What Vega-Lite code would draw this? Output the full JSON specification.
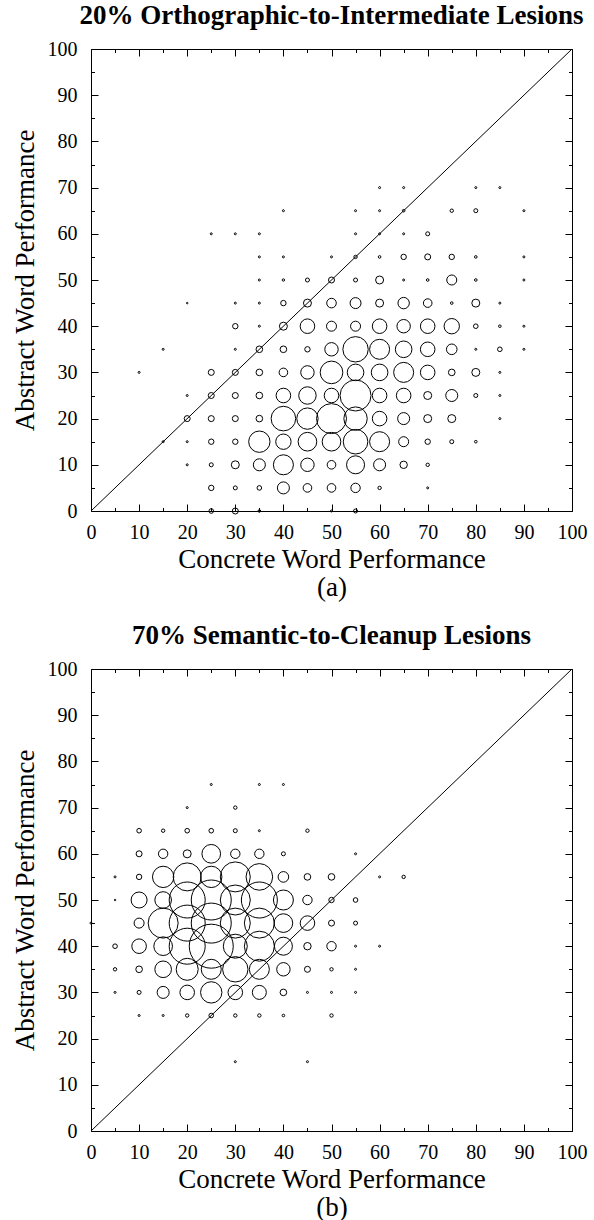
{
  "$schema": "https://vega.github.io/schema/vega-lite/v6.json",
  "background": "white",
  "padding": {"left": 10, "top": 1, "right": 0, "bottom": 0},
  "spacing": 158,
  "bounds": "flush",
  "config": {
    "font": "Liberation Serif",
    "view": {"stroke": "black", "strokeWidth": 1},
    "axis": {"grid": false, "domain": false, "tickColor": "black", "tickWidth": 1, "labelColor": "black", "labelFont": "Liberation Serif", "labelFontSize": 20, "titleFont": "Liberation Serif", "titleFontSize": 27, "titleFontWeight": "normal", "titleColor": "black", "labelFlush": false, "labelOverlap": false},
    "title": {"font": "Liberation Serif", "fontSize": 27, "fontWeight": "bold", "color": "black", "anchor": "middle"}
  },
  "datasets": {
    "a": [
      {"x":60,"y":70,"n":1},{"x":65,"y":70,"n":1},{"x":80,"y":70,"n":1},{"x":85,"y":70,"n":1},
      {"x":40,"y":65,"n":1},{"x":55,"y":65,"n":1},{"x":60,"y":65,"n":1},{"x":65,"y":65,"n":1.7},{"x":75,"y":65,"n":2.9},{"x":80,"y":65,"n":4},{"x":90,"y":65,"n":1},
      {"x":25,"y":60,"n":1},{"x":30,"y":60,"n":1},{"x":35,"y":60,"n":1},{"x":55,"y":60,"n":1},{"x":60,"y":60,"n":1},{"x":65,"y":60,"n":1},{"x":70,"y":60,"n":4},
      {"x":35,"y":55,"n":1},{"x":40,"y":55,"n":1},{"x":50,"y":55,"n":1},{"x":55,"y":55,"n":2.9},{"x":60,"y":55,"n":1.7},{"x":65,"y":55,"n":7.3},{"x":70,"y":55,"n":9},{"x":75,"y":55,"n":7.3},{"x":80,"y":55,"n":1.7},{"x":90,"y":55,"n":1},
      {"x":35,"y":50,"n":1},{"x":40,"y":50,"n":1.4},{"x":45,"y":50,"n":4},{"x":50,"y":50,"n":9},{"x":55,"y":50,"n":4},{"x":60,"y":50,"n":16},{"x":65,"y":50,"n":1},{"x":70,"y":50,"n":1.7},{"x":75,"y":50,"n":25},{"x":80,"y":50,"n":1.7},{"x":90,"y":50,"n":1},
      {"x":20,"y":45,"n":0.6},{"x":30,"y":45,"n":1},{"x":35,"y":45,"n":1},{"x":40,"y":45,"n":7.3},{"x":45,"y":45,"n":16},{"x":50,"y":45,"n":23},{"x":55,"y":45,"n":30},{"x":60,"y":45,"n":16},{"x":65,"y":45,"n":32.5},{"x":70,"y":45,"n":18.5},{"x":75,"y":45,"n":1.7},{"x":80,"y":45,"n":16},{"x":85,"y":45,"n":1},
      {"x":30,"y":40,"n":7.3},{"x":35,"y":40,"n":1},{"x":40,"y":40,"n":16},{"x":45,"y":40,"n":53},{"x":50,"y":40,"n":25},{"x":55,"y":40,"n":25},{"x":60,"y":40,"n":53},{"x":65,"y":40,"n":45},{"x":70,"y":40,"n":53},{"x":75,"y":40,"n":59},{"x":80,"y":40,"n":5.3},{"x":85,"y":40,"n":1.7},{"x":90,"y":40,"n":1},
      {"x":15,"y":35,"n":1},{"x":30,"y":35,"n":1},{"x":35,"y":35,"n":11},{"x":40,"y":35,"n":11},{"x":45,"y":35,"n":7.3},{"x":50,"y":35,"n":45},{"x":55,"y":35,"n":161},{"x":60,"y":35,"n":100},{"x":65,"y":35,"n":69},{"x":70,"y":35,"n":53},{"x":75,"y":35,"n":28},{"x":80,"y":35,"n":1},{"x":85,"y":35,"n":5.3},{"x":90,"y":35,"n":1},
      {"x":10,"y":30,"n":1},{"x":25,"y":30,"n":9},{"x":30,"y":30,"n":9},{"x":35,"y":30,"n":11},{"x":40,"y":30,"n":18.5},{"x":45,"y":30,"n":45},{"x":50,"y":30,"n":128},{"x":55,"y":30,"n":69},{"x":60,"y":30,"n":69},{"x":65,"y":30,"n":100},{"x":70,"y":30,"n":53},{"x":75,"y":30,"n":11},{"x":80,"y":30,"n":16},{"x":85,"y":30,"n":1},
      {"x":20,"y":25,"n":1},{"x":25,"y":25,"n":9},{"x":30,"y":25,"n":9},{"x":35,"y":25,"n":11},{"x":40,"y":25,"n":53},{"x":45,"y":25,"n":76},{"x":50,"y":25,"n":53},{"x":55,"y":25,"n":240},{"x":60,"y":25,"n":53},{"x":65,"y":25,"n":53},{"x":70,"y":25,"n":16},{"x":75,"y":25,"n":36},{"x":80,"y":25,"n":4},{"x":85,"y":25,"n":1},
      {"x":20,"y":20,"n":9},{"x":25,"y":20,"n":9},{"x":30,"y":20,"n":9},{"x":35,"y":20,"n":11},{"x":40,"y":20,"n":151},{"x":45,"y":20,"n":114},{"x":50,"y":20,"n":225},{"x":55,"y":20,"n":137},{"x":60,"y":20,"n":53},{"x":65,"y":20,"n":36},{"x":70,"y":20,"n":16},{"x":75,"y":20,"n":16},{"x":85,"y":20,"n":1},
      {"x":15,"y":15,"n":1},{"x":20,"y":15,"n":1},{"x":25,"y":15,"n":7.3},{"x":30,"y":15,"n":7.3},{"x":35,"y":15,"n":114},{"x":40,"y":15,"n":59},{"x":45,"y":15,"n":87},{"x":50,"y":15,"n":87},{"x":55,"y":15,"n":151},{"x":60,"y":15,"n":100},{"x":65,"y":15,"n":25},{"x":70,"y":15,"n":7.3},{"x":75,"y":15,"n":4},{"x":80,"y":15,"n":1.7},
      {"x":20,"y":10,"n":1},{"x":25,"y":10,"n":4},{"x":30,"y":10,"n":16},{"x":35,"y":10,"n":36},{"x":40,"y":10,"n":100},{"x":45,"y":10,"n":45},{"x":50,"y":10,"n":18.5},{"x":55,"y":10,"n":81},{"x":60,"y":10,"n":36},{"x":65,"y":10,"n":13.7},{"x":70,"y":10,"n":2.9},
      {"x":25,"y":5,"n":7.3},{"x":30,"y":5,"n":4},{"x":35,"y":5,"n":5.3},{"x":40,"y":5,"n":36},{"x":45,"y":5,"n":18.5},{"x":50,"y":5,"n":18.5},{"x":55,"y":5,"n":22},{"x":60,"y":5,"n":2.9},{"x":70,"y":5,"n":1},
      {"x":25,"y":0,"n":5.3},{"x":30,"y":0,"n":9},{"x":35,"y":0,"n":1.7},{"x":50,"y":0,"n":1},{"x":55,"y":0,"n":4}
    ],
    "b": [
      {"x":25,"y":75,"n":1},{"x":35,"y":75,"n":1},{"x":40,"y":75,"n":1},
      {"x":20,"y":70,"n":1},{"x":30,"y":70,"n":2.9},
      {"x":10,"y":65,"n":5.3},{"x":15,"y":65,"n":2.9},{"x":20,"y":65,"n":5.3},{"x":25,"y":65,"n":5.3},{"x":30,"y":65,"n":4},{"x":35,"y":65,"n":1},{"x":45,"y":65,"n":2.9},
      {"x":10,"y":60,"n":9},{"x":15,"y":60,"n":22},{"x":20,"y":60,"n":16},{"x":25,"y":60,"n":87},{"x":30,"y":60,"n":22},{"x":35,"y":60,"n":22},{"x":40,"y":60,"n":4},{"x":55,"y":60,"n":1},
      {"x":5,"y":55,"n":1},{"x":10,"y":55,"n":7.3},{"x":15,"y":55,"n":114},{"x":20,"y":55,"n":196},{"x":25,"y":55,"n":114},{"x":30,"y":55,"n":225},{"x":35,"y":55,"n":177},{"x":40,"y":55,"n":28},{"x":45,"y":55,"n":11},{"x":50,"y":55,"n":11},{"x":60,"y":55,"n":1},{"x":65,"y":55,"n":2.9},
      {"x":5,"y":50,"n":0.6},{"x":10,"y":50,"n":64},{"x":15,"y":50,"n":69},{"x":20,"y":50,"n":324},{"x":25,"y":50,"n":400},{"x":30,"y":50,"n":225},{"x":35,"y":50,"n":324},{"x":40,"y":50,"n":100},{"x":45,"y":50,"n":22},{"x":50,"y":50,"n":7.3},{"x":55,"y":50,"n":5.3},
      {"x":0,"y":45,"n":1},{"x":10,"y":45,"n":25},{"x":15,"y":45,"n":225},{"x":20,"y":45,"n":324},{"x":25,"y":45,"n":400},{"x":30,"y":45,"n":225},{"x":35,"y":45,"n":225},{"x":40,"y":45,"n":87},{"x":45,"y":45,"n":53},{"x":50,"y":45,"n":9},{"x":55,"y":45,"n":4},
      {"x":5,"y":40,"n":5.3},{"x":10,"y":40,"n":53},{"x":15,"y":40,"n":87},{"x":20,"y":40,"n":324},{"x":25,"y":40,"n":484},{"x":30,"y":40,"n":144},{"x":35,"y":40,"n":225},{"x":40,"y":40,"n":81},{"x":45,"y":40,"n":13.7},{"x":50,"y":40,"n":22},{"x":55,"y":40,"n":1},{"x":60,"y":40,"n":1},
      {"x":5,"y":35,"n":2.9},{"x":10,"y":35,"n":11},{"x":15,"y":35,"n":69},{"x":20,"y":35,"n":121},{"x":25,"y":35,"n":100},{"x":30,"y":35,"n":161},{"x":35,"y":35,"n":100},{"x":40,"y":35,"n":45},{"x":45,"y":35,"n":9},{"x":50,"y":35,"n":2.9},{"x":55,"y":35,"n":1},
      {"x":5,"y":30,"n":1},{"x":10,"y":30,"n":4},{"x":15,"y":30,"n":36},{"x":20,"y":30,"n":53},{"x":25,"y":30,"n":114},{"x":30,"y":30,"n":53},{"x":35,"y":30,"n":49},{"x":40,"y":30,"n":11},{"x":45,"y":30,"n":1},{"x":50,"y":30,"n":1},{"x":55,"y":30,"n":1},
      {"x":10,"y":25,"n":1},{"x":15,"y":25,"n":1},{"x":20,"y":25,"n":2.9},{"x":25,"y":25,"n":5.3},{"x":30,"y":25,"n":2.9},{"x":35,"y":25,"n":2.9},{"x":40,"y":25,"n":1.7},{"x":50,"y":25,"n":2.9},
      {"x":30,"y":15,"n":1},{"x":45,"y":15,"n":1}
    ],
    "diag": [{"x":0,"y":0},{"x":100,"y":100}]
  },
  "vconcat": [
    {
      "width": 481, "height": 462,
      "title": {"text": "20% Orthographic-to-Intermediate Lesions", "offset": 9},
      "layer": [
        {
          "data": {"name": "a"},
          "mark": {"type": "point", "shape": "circle", "filled": false, "stroke": "black", "strokeWidth": 1, "opacity": 1, "clip": false},
          "encoding": {
            "x": {"field": "x", "type": "quantitative", "scale": {"domain": [0, 100], "nice": false, "zero": false}, "axis": {"orient": "bottom", "values": [0,10,20,30,40,50,60,70,80,90,100], "tickSize": -7, "labelPadding": 18, "title": ["Concrete Word Performance", "(a)"], "titleLineHeight": 28, "titlePadding": 4}},
            "y": {"field": "y", "type": "quantitative", "scale": {"domain": [0, 100], "nice": false, "zero": false}, "axis": {"orient": "left", "values": [0,10,20,30,40,50,60,70,80,90,100], "tickSize": -7, "labelPadding": 21, "title": "Abstract Word Performance", "titlePadding": 8}},
            "size": {"field": "n", "type": "quantitative", "scale": {"type": "linear", "domain": [0, 500], "range": [0, 2000], "zero": true}, "legend": null}
          }
        },
        {
          "data": {"name": "diag"},
          "mark": {"type": "line", "color": "black", "strokeWidth": 1},
          "encoding": {
            "x": {"field": "x", "type": "quantitative", "axis": {"orient": "bottom", "values": [5,15,25,35,45,55,65,75,85,95], "tickSize": -3.5, "labels": false, "title": null}},
            "y": {"field": "y", "type": "quantitative", "axis": {"orient": "left", "values": [5,15,25,35,45,55,65,75,85,95], "tickSize": -3.5, "labels": false, "title": null}}
          }
        },
        {
          "data": {"name": "diag"},
          "mark": {"type": "point", "opacity": 0},
          "encoding": {
            "x": {"field": "x", "type": "quantitative", "axis": {"orient": "top", "values": [0,10,20,30,40,50,60,70,80,90,100], "tickSize": -7, "labels": false, "title": null}},
            "y": {"field": "y", "type": "quantitative", "axis": {"orient": "right", "values": [0,10,20,30,40,50,60,70,80,90,100], "tickSize": -7, "labels": false, "title": null}}
          }
        },
        {
          "data": {"name": "diag"},
          "mark": {"type": "point", "opacity": 0},
          "encoding": {
            "x": {"field": "x", "type": "quantitative", "axis": {"orient": "top", "values": [5,15,25,35,45,55,65,75,85,95], "tickSize": -3.5, "labels": false, "title": null}},
            "y": {"field": "y", "type": "quantitative", "axis": {"orient": "right", "values": [5,15,25,35,45,55,65,75,85,95], "tickSize": -3.5, "labels": false, "title": null}}
          }
        }
      ],
      "resolve": {"axis": {"x": "independent", "y": "independent"}}
    },
    {
      "width": 481, "height": 462,
      "title": {"text": "70% Semantic-to-Cleanup Lesions", "offset": 9},
      "layer": [
        {
          "data": {"name": "b"},
          "mark": {"type": "point", "shape": "circle", "filled": false, "stroke": "black", "strokeWidth": 1, "opacity": 1, "clip": false},
          "encoding": {
            "x": {"field": "x", "type": "quantitative", "scale": {"domain": [0, 100], "nice": false, "zero": false}, "axis": {"orient": "bottom", "values": [0,10,20,30,40,50,60,70,80,90,100], "tickSize": -7, "labelPadding": 18, "title": ["Concrete Word Performance", "(b)"], "titleLineHeight": 28, "titlePadding": 4}},
            "y": {"field": "y", "type": "quantitative", "scale": {"domain": [0, 100], "nice": false, "zero": false}, "axis": {"orient": "left", "values": [0,10,20,30,40,50,60,70,80,90,100], "tickSize": -7, "labelPadding": 21, "title": "Abstract Word Performance", "titlePadding": 8}},
            "size": {"field": "n", "type": "quantitative", "scale": {"type": "linear", "domain": [0, 500], "range": [0, 2000], "zero": true}, "legend": null}
          }
        },
        {
          "data": {"name": "diag"},
          "mark": {"type": "line", "color": "black", "strokeWidth": 1},
          "encoding": {
            "x": {"field": "x", "type": "quantitative", "axis": {"orient": "bottom", "values": [5,15,25,35,45,55,65,75,85,95], "tickSize": -3.5, "labels": false, "title": null}},
            "y": {"field": "y", "type": "quantitative", "axis": {"orient": "left", "values": [5,15,25,35,45,55,65,75,85,95], "tickSize": -3.5, "labels": false, "title": null}}
          }
        },
        {
          "data": {"name": "diag"},
          "mark": {"type": "point", "opacity": 0},
          "encoding": {
            "x": {"field": "x", "type": "quantitative", "axis": {"orient": "top", "values": [0,10,20,30,40,50,60,70,80,90,100], "tickSize": -7, "labels": false, "title": null}},
            "y": {"field": "y", "type": "quantitative", "axis": {"orient": "right", "values": [0,10,20,30,40,50,60,70,80,90,100], "tickSize": -7, "labels": false, "title": null}}
          }
        },
        {
          "data": {"name": "diag"},
          "mark": {"type": "point", "opacity": 0},
          "encoding": {
            "x": {"field": "x", "type": "quantitative", "axis": {"orient": "top", "values": [5,15,25,35,45,55,65,75,85,95], "tickSize": -3.5, "labels": false, "title": null}},
            "y": {"field": "y", "type": "quantitative", "axis": {"orient": "right", "values": [5,15,25,35,45,55,65,75,85,95], "tickSize": -3.5, "labels": false, "title": null}}
          }
        }
      ],
      "resolve": {"axis": {"x": "independent", "y": "independent"}}
    }
  ]
}
